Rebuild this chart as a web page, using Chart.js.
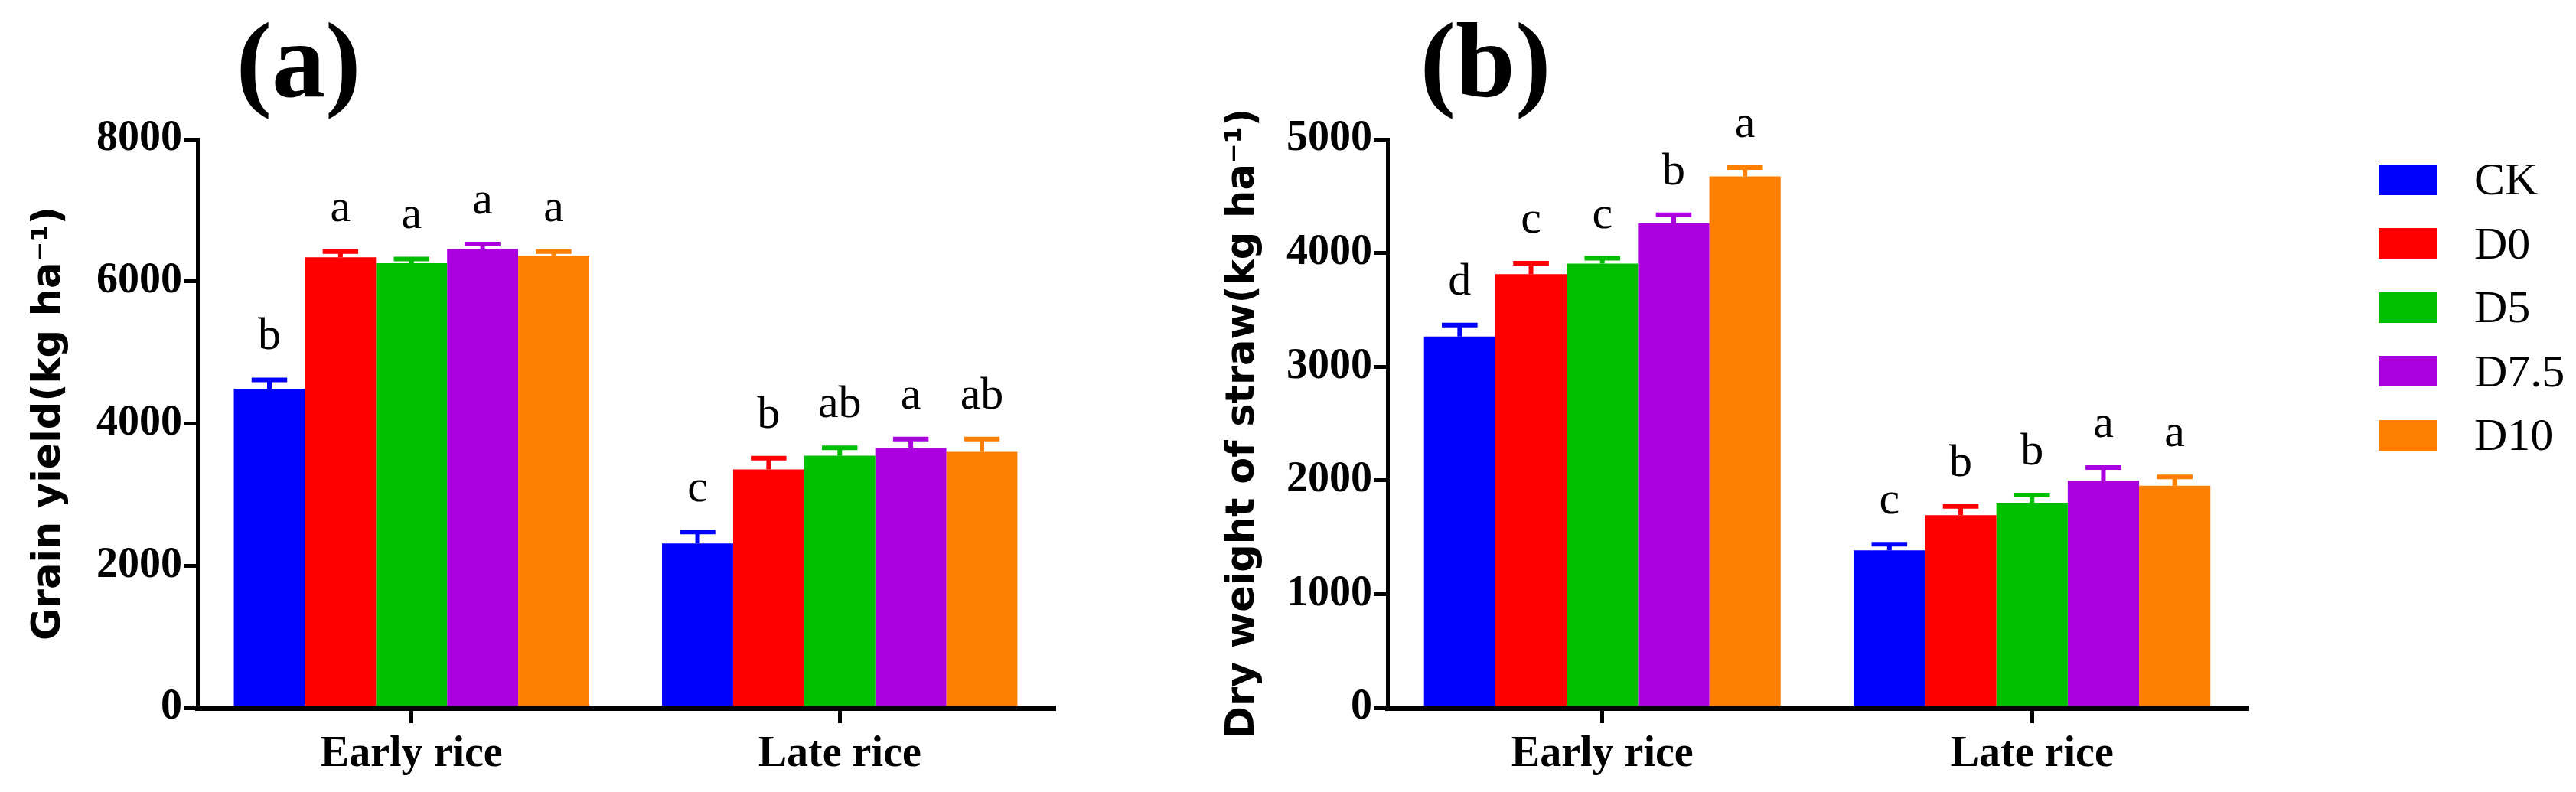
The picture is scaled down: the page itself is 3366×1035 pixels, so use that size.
<!DOCTYPE html>
<html>
<head>
<meta charset="utf-8">
<script src="https://cdn.jsdelivr.net/npm/chart.js@4.4.1/dist/chart.umd.min.js"></script>
<style>
  html, body { margin: 0; padding: 0; background: #fff; }
  #page { position: relative; width: 3366px; height: 1035px; overflow: hidden; }
  .panel { position: absolute; top: 0; height: 1035px; }
  #panelA { left: 0; width: 1560px; }
  #panelB { left: 1560px; width: 1806px; }
  #legend { position: absolute; left: 3108px; top: 193px; }
  .legend-item { display: flex; align-items: center; height: 83.5px; }
  .legend-box { width: 76px; height: 40px; }
  .legend-text { margin-left: 49px; font: 60px "Liberation Serif", serif; color: #000; }
</style>
</head>
<body>
<div id="page">
  <div class="panel" id="panelA"><canvas id="chartA"></canvas></div>
  <div class="panel" id="panelB"><canvas id="chartB"></canvas></div>
  <div id="legend"></div>
</div>
<script>
// ===== DATA =====
const categories = ['Early rice', 'Late rice'];
const treatments = ['CK', 'D0', 'D5', 'D7.5', 'D10'];
const colors = ['#0000ff', '#ff0000', '#00bf00', '#aa00dd', '#ff8000'];

// (a) grain yield
const grainEarly = [4490, 6340, 6255, 6456, 6361];
const grainLate = [2313, 3353, 3549, 3655, 3602];
const grainEarlyErr = [125, 80, 60, 70, 60];
const grainLateErr = [160, 160, 110, 127, 180];
const grainEarlyLetters = ['b', 'a', 'a', 'a', 'a'];
const grainLateLetters = ['c', 'b', 'ab', 'a', 'ab'];
const grainTicks = [0, 2000, 4000, 6000, 8000];

// (b) straw dry weight
const strawEarly = [3266, 3814, 3907, 4262, 4674];
const strawLate = [1385, 1694, 1804, 1997, 1953];
const strawEarlyErr = [100, 96, 46, 74, 77];
const strawLateErr = [54, 77, 66, 116, 77];
const strawEarlyLetters = ['d', 'c', 'c', 'b', 'a'];
const strawLateLetters = ['c', 'b', 'b', 'a', 'a'];
const strawTicks = [0, 1000, 2000, 3000, 4000, 5000];

// ===== HELPERS =====
const tickFont = { family: 'Liberation Serif', size: 56, weight: 'bold' };
const titleFont = { family: 'DejaVu Sans', size: 51, weight: 'bold' };

function buildDatasets(early, late, earlyErr, lateErr, earlyLet, lateLet) {
    return treatments.map((t, i) => ({
        label: t,
        data: [early[i], late[i]],
        errors: [earlyErr[i], lateErr[i]],
        letters: [earlyLet[i], lateLet[i]],
        backgroundColor: colors[i],
        borderWidth: 0,
        categoryPercentage: 0.83,
        barPercentage: 1.0,
    }));
}

// error bars (upper half only) + significance letters + panel tag
const barExtras = {
    id: 'barExtras',
    afterDatasetsDraw(chart, args, opts) {
        const ctx = chart.ctx;
        const y = chart.scales.y;
        ctx.save();
        chart.data.datasets.forEach((ds, i) => {
            const meta = chart.getDatasetMeta(i);
            meta.data.forEach((bar, j) => {
                const topY = y.getPixelForValue(ds.data[j] + ds.errors[j]);
                const half = bar.width * 0.25;
                ctx.strokeStyle = ds.backgroundColor;
                ctx.lineWidth = 6;
                ctx.lineCap = 'butt';
                ctx.beginPath();
                ctx.moveTo(bar.x, bar.y);
                ctx.lineTo(bar.x, topY);
                ctx.moveTo(bar.x - half, topY);
                ctx.lineTo(bar.x + half, topY);
                ctx.stroke();

                ctx.fillStyle = '#000';
                ctx.font = '60px "Liberation Serif"';
                ctx.textAlign = 'center';
                ctx.textBaseline = 'alphabetic';
                ctx.fillText(ds.letters[j], bar.x, topY - 40);
            });
        });
        ctx.restore();
    },
    afterDraw(chart, args, opts) {
        const ctx = chart.ctx;
        ctx.save();
        ctx.fillStyle = '#000';
        ctx.font = 'bold 140px "Liberation Serif"';
        ctx.textAlign = 'center';
        ctx.textBaseline = 'middle';
        ctx.fillText(opts.tag, opts.tagX, 90);
        ctx.restore();
    }
};

function makeChart(canvasId, datasets, yTicks, yTitle, axisLeft, padRight, tag, tagX) {
    return new Chart(document.getElementById(canvasId), {
        type: 'bar',
        data: { labels: categories, datasets: datasets },
        plugins: [barExtras],
        options: {
            responsive: true,
            maintainAspectRatio: false,
            animation: false,
            devicePixelRatio: 1,
            layout: { padding: { top: 182, right: padRight, left: 0, bottom: 0 } },
            plugins: {
                legend: { display: false },
                tooltip: { enabled: false },
                barExtras: { tag: tag, tagX: tagX }
            },
            scales: {
                x: {
                    grid: {
                        display: true,
                        drawOnChartArea: false,
                        offset: false,
                        color: '#000',
                        lineWidth: 5,
                        tickLength: 20
                    },
                    border: { display: true, color: '#000', width: 7 },
                    ticks: { color: '#000', font: tickFont, padding: 8 },
                    afterFit: s => { s.height = 110; }
                },
                y: {
                    min: yTicks[0],
                    max: yTicks[yTicks.length - 1],
                    afterBuildTicks: s => { s.ticks = yTicks.map(v => ({ value: v })); },
                    ticks: {
                        color: '#000',
                        font: tickFont,
                        padding: 2,
                        callback: v => String(v)
                    },
                    grid: {
                        drawOnChartArea: false,
                        color: '#000',
                        lineWidth: 5,
                        tickLength: 18
                    },
                    border: { display: true, color: '#000', width: 5 },
                    title: {
                        display: true,
                        text: yTitle,
                        color: '#000',
                        font: titleFont,
                        padding: { top: 34, bottom: 0 }
                    },
                    afterFit: s => { s.width = axisLeft; }
                }
            }
        }
    });
}

// ===== (a) GRAIN YIELD =====
makeChart(
    'chartA',
    buildDatasets(grainEarly, grainLate, grainEarlyErr, grainLateErr, grainEarlyLetters, grainLateLetters),
    grainTicks,
    'Grain yield(kg ha\u207B\u00B9)',
    258, 183, '(a)', 390
);

// ===== (b) STRAW =====
makeChart(
    'chartB',
    buildDatasets(strawEarly, strawLate, strawEarlyErr, strawLateErr, strawEarlyLetters, strawLateLetters),
    strawTicks,
    'Dry weight of straw(kg ha\u207B\u00B9)',
    253, 430, '(b)', 381
);

// ===== LEGEND =====
const legendEl = document.getElementById('legend');
treatments.forEach((t, i) => {
    legendEl.innerHTML += `
        <div class="legend-item">
            <div class="legend-box" style="background:${colors[i]}"></div>
            <span class="legend-text">${t}</span>
        </div>
    `;
});
</script>
</body>
</html>
